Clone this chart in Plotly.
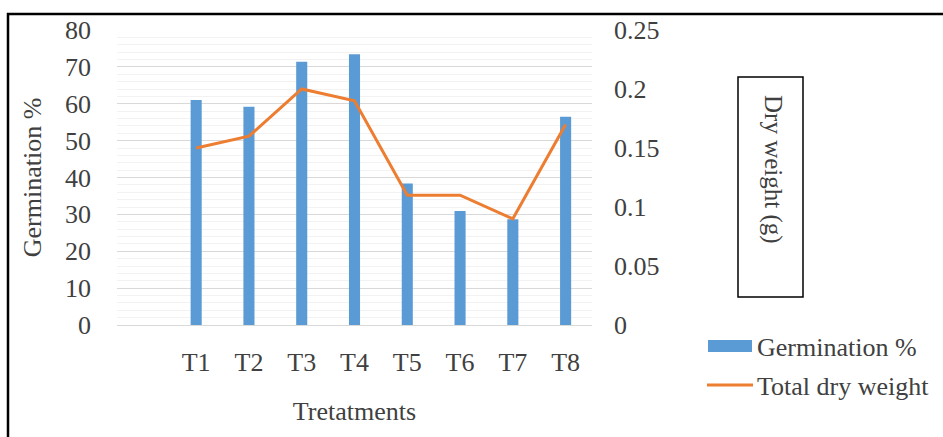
import plotly.graph_objects as go

categories = ["T1", "T2", "T3", "T4", "T5", "T6", "T7", "T8"]
germination = [61, 59.2, 71.4, 73.4, 38.4, 30.9, 28.7, 56.5]
dry_weight = [0.15, 0.16, 0.20, 0.19, 0.11, 0.11, 0.09, 0.17]
left_ticks = [0, 10, 20, 30, 40, 50, 60, 70, 80]
right_ticks = [0, 0.05, 0.10, 0.15, 0.20, 0.25]
right_tick_labels = ["0", "0.05", "0.1", "0.15", "0.2", "0.25"]

W, H = 943, 437
L, R, T, B = 117, 592, 30, 325
FONT = "Liberation Serif, Times New Roman, serif"
FS = 26
TXT = "#404040"
BLUE = "#5B9BD5"
ORANGE = "#ED7D31"

def px(x):
    return (x - L) / (R - L)

def py(y):
    return (B - y) / (B - T)

xpos = list(range(1, len(categories) + 1))

fig = go.Figure()
fig.add_trace(go.Bar(x=xpos, y=germination, width=0.21, marker_color=BLUE,
                     marker_line_width=0, name="Germination %"))
fig.add_trace(go.Scatter(x=xpos, y=dry_weight, yaxis="y2", mode="lines",
                         line=dict(color=ORANGE, width=3), name="Total dry weight"))

fig.update_layout(
    width=W, height=H, autosize=False,
    margin=dict(l=L, r=W - R, t=T, b=H - B, pad=0),
    paper_bgcolor="white", plot_bgcolor="white",
    showlegend=False,
    font=dict(family=FONT, size=FS, color=TXT),
    xaxis=dict(range=[-0.5, 8.5], tickvals=xpos, ticktext=categories,
               showgrid=False, zeroline=False, showline=True, linecolor="#d9d9d9",
               linewidth=1, ticks="", ticklabelstandoff=14,
               tickfont=dict(size=FS, color=TXT),
               title=dict(text="Tretatments", standoff=25, font=dict(size=FS, color=TXT))),
    yaxis=dict(range=[0, 80], tickvals=left_ticks, showgrid=True, gridcolor="#d9d9d9",
               gridwidth=1, zeroline=False, ticks="", ticklabelstandoff=25,
               tickfont=dict(size=FS, color=TXT),
               minor=dict(dtick=2, showgrid=True, gridcolor="#f2f2f2", gridwidth=1),
               title=dict(text="Germination %", standoff=15, font=dict(size=FS, color=TXT))),
    yaxis2=dict(range=[0, 0.25], tickvals=right_ticks, ticktext=right_tick_labels,
                overlaying="y", side="right", showgrid=False, zeroline=False,
                ticks="", ticklabelstandoff=21, tickfont=dict(size=FS, color=TXT)),
)

# outer frame (top and left edges visible)
fig.add_shape(type="rect", xref="paper", yref="paper",
              x0=px(8), x1=px(960), y0=py(460), y1=py(14),
              line=dict(color="black", width=2.5), layer="above")

# boxed right-axis title
fig.add_shape(type="rect", xref="paper", yref="paper",
              x0=px(738), x1=px(803), y0=py(297), y1=py(77),
              line=dict(color="black", width=1.5))
fig.add_annotation(xref="paper", yref="paper", x=px(773), y=py(169),
                   text="Dry weight (g)", textangle=90, showarrow=False,
                   font=dict(size=FS - 1, color=TXT), xanchor="center", yanchor="middle")

# legend
fig.add_shape(type="rect", xref="paper", yref="paper",
              x0=px(708), x1=px(752), y0=py(352), y1=py(340),
              fillcolor=BLUE, line=dict(width=0))
fig.add_shape(type="line", xref="paper", yref="paper",
              x0=px(707), x1=px(753), y0=py(385), y1=py(385),
              line=dict(color=ORANGE, width=3))
fig.add_annotation(xref="paper", yref="paper", x=px(755), y=py(347),
                   text="Germination %", showarrow=False, xanchor="left", yanchor="middle",
                   font=dict(size=FS, color=TXT))
fig.add_annotation(xref="paper", yref="paper", x=px(755), y=py(386),
                   text="Total dry weight", showarrow=False, xanchor="left", yanchor="middle",
                   font=dict(size=FS, color=TXT))

fig.write_html("out.html", config={"displayModeBar": False},
               post_script="document.body.style.margin='0';")
